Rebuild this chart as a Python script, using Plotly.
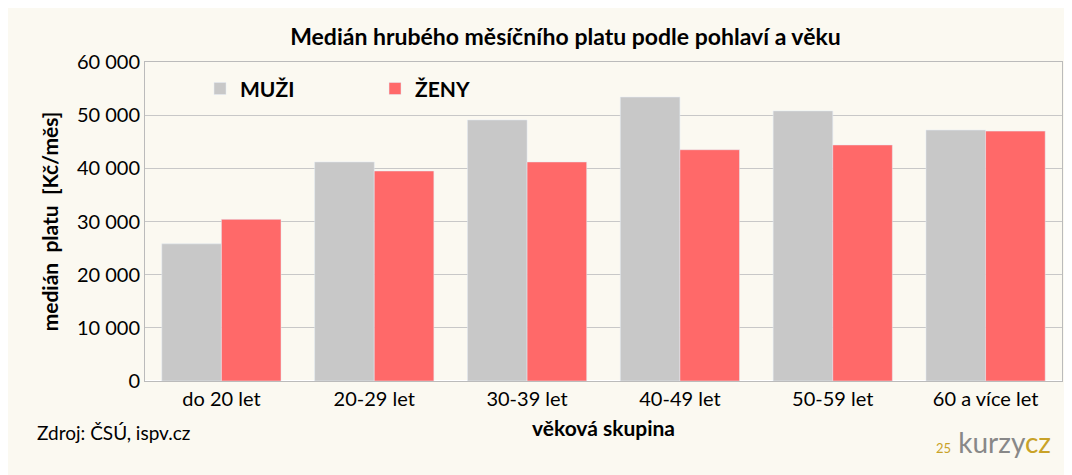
import plotly.graph_objects as go

categories = ["do 20 let", "20-29 let", "30-39 let", "40-49 let", "50-59 let", "60 a více let"]
muzi = [25800, 41200, 49100, 53400, 50800, 47200]
zeny = [30400, 39500, 41200, 43500, 44400, 47000]
tickvals = [0, 10000, 20000, 30000, 40000, 50000, 60000]
ticktext = ["0", "10 000", "20 000", "30 000", "40 000", "50 000", "60 000"]

F = "Lato, DejaVu Sans, sans-serif"
fig = go.Figure()
fig.add_bar(x=categories, y=muzi, name="MUŽI", marker_color="#C8C8C8")
fig.add_bar(x=categories, y=zeny, name="ŽENY", marker_color="#FF6969")
fig.update_layout(
    width=1072, height=475,
    paper_bgcolor="#FBF9F1", plot_bgcolor="#FBF9F1",
    font=dict(family=F, size=20, color="#000"),
    title=dict(text="<b>Medián hrubého měsíčního platu podle pohlaví a věku</b>", x=0.52, y=0.955, xanchor="center", font=dict(size=23)),
    margin=dict(l=137, r=18, t=54, b=102),
    bargap=0.22, bargroupgap=0,
    legend=dict(orientation="h", x=0.06, y=0.98, xanchor="left", yanchor="top",
                font=dict(size=21, family=F, weight="bold"), bgcolor="rgba(0,0,0,0)", entrywidth=130),
    showlegend=True,
)
fig.update_yaxes(range=[0, 60000], tickvals=tickvals, ticktext=ticktext, gridcolor="#C8C8C8",
                 showline=True, linecolor="#BBB", mirror=True, ticks="", tickfont=dict(size=20),
                 title=dict(text="<b>medián  platu  [Kč/měs]</b>", font=dict(size=21), standoff=12))
fig.update_xaxes(showline=True, linecolor="#BBB", mirror=True, tickfont=dict(size=20),
                 title=dict(text="<b>věková skupina</b>", font=dict(size=21), standoff=12))
fig.add_annotation(text="Zdroj: ČSÚ, ispv.cz", xref="paper", yref="paper", x=-0.12, y=-0.16,
                   xanchor="left", yanchor="middle", showarrow=False, font=dict(size=19))
fig.add_annotation(text="<span style='color:#C9A227;font-size:13px'>25</span> <span style='color:#888'>kurzy</span><span style='color:#C9A227'>cz</span>",
                   xref="paper", yref="paper", x=0.99, y=-0.19, xanchor="right", yanchor="middle",
                   showarrow=False, font=dict(size=28))
fig.write_html("out.html")
